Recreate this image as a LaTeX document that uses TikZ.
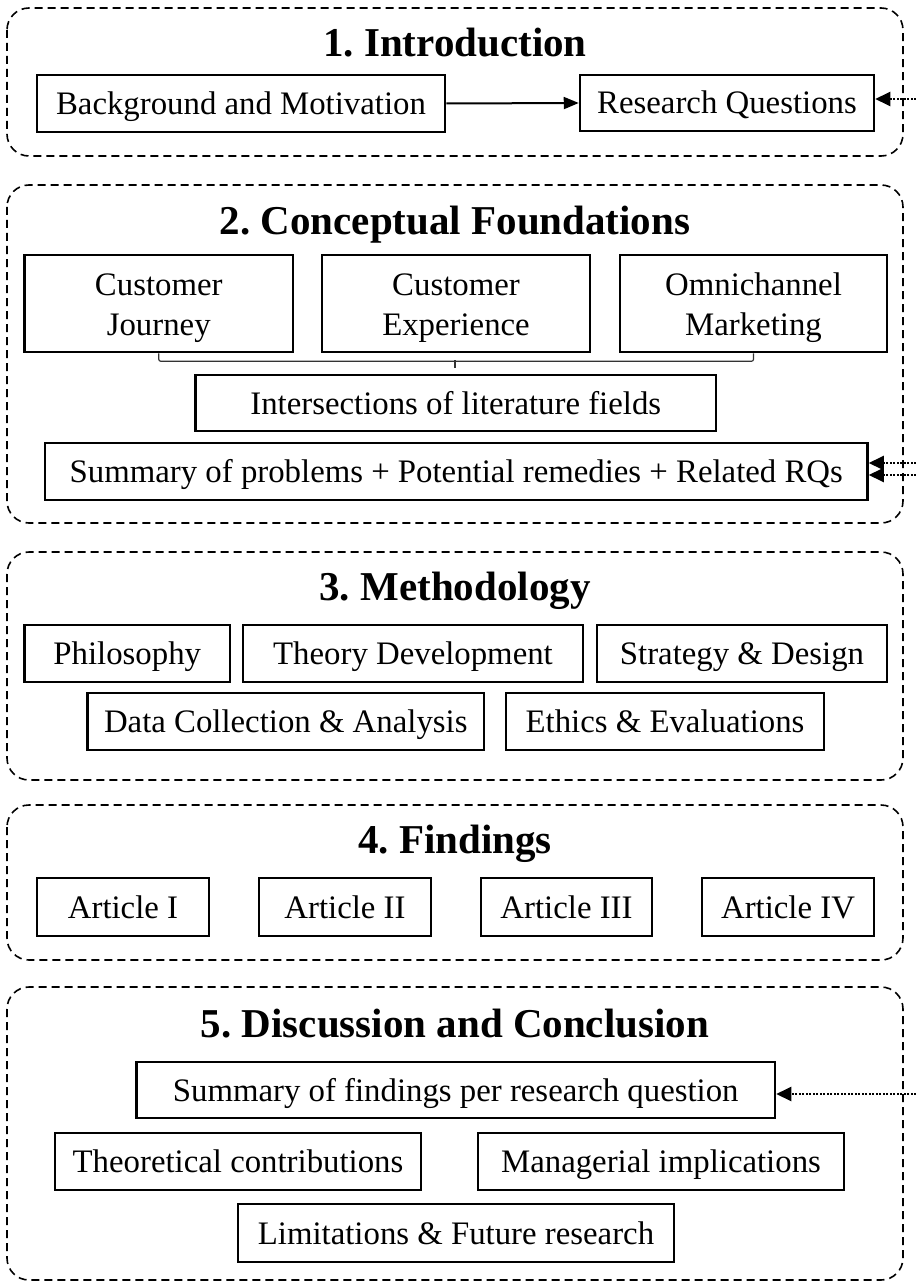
\documentclass[tikz,border=0pt]{standalone}
\usepackage{fontspec}
\setmainfont{Liberation Serif}
\usetikzlibrary{arrows.meta}
\frenchspacing
\newcommand{\boxfont}{\fontsize{32.8}{40}\selectfont}
\newcommand{\titlefont}{\fontsize{41}{48}\selectfont\bfseries}
% two-line label, set slightly below the box centre
\newcommand{\twolines}[2]{\raisebox{-4pt}[\height][\depth]{\begin{tabular}{@{}c@{}}#1\\#2\end{tabular}}}
\tikzset{
  panel/.style={draw, dashed, dash pattern=on 8pt off 5pt, line width=1.6pt, rounded corners=22pt},
  sectitle/.style={anchor=base, font=\titlefont, inner sep=0pt},
  box/.style={draw, line width=2.5pt, inner sep=0pt, font=\boxfont, text height=22pt, text depth=0pt},
  twobox/.style={draw, line width=2.5pt, inner sep=0pt, font=\boxfont},
  flow/.style={line width=2pt, -{Triangle[length=15pt,width=12pt]}},
  feed/.style={line width=2pt, dash pattern=on 2pt off 1.5pt, -{Triangle[length=15pt,width=14pt]}},
  bracket/.style={line width=1.2pt, draw=black!80}
}
\begin{document}
\begin{tikzpicture}[x=1pt,y=-1pt]
\useasboundingbox (0,0) rectangle (915,1281);

% section frames
\draw[panel] (7,8) rectangle (903,156);
\draw[panel] (7,185) rectangle (903,523);
\draw[panel] (7,552) rectangle (903,780);
\draw[panel] (7,805) rectangle (903,960);
\draw[panel] (7,987) rectangle (903,1280);

% 1. Introduction
\node[sectitle] (t1) at (455,57) {1. Introduction};
\node[box, minimum width=408pt, minimum height=57pt] (bg) at (241,103.5) {Background and Motivation};
\node[box, minimum width=294pt, minimum height=56pt] (rq) at (727,103) {Research Questions};
\draw[flow] (bg.east) -- (rq.west);

% 2. Conceptual Foundations
\node[sectitle] (t2) at (455,235) {2. Conceptual Foundations};
\node[twobox, minimum width=268.5pt, minimum height=97pt] (cj) at (158.75,303.5) {\twolines{Customer}{Journey}};
\node[twobox, minimum width=268pt, minimum height=97pt] (ce) at (456,303.5) {\twolines{Customer}{Experience}};
\node[twobox, minimum width=267pt, minimum height=97pt] (om) at (753.5,303.5) {\twolines{Omnichannel}{Marketing}};
\coordinate (brtip) at (455,368);
\draw[bracket, rounded corners=2pt] (cj.south) -- ++(0,8) -| (om.south);
\draw[bracket] (brtip |- 0,360) -- (brtip);
\node[box, minimum width=520.5pt, minimum height=56pt] (lit) at (455.75,403) {Intersections of literature fields};
\node[box, minimum width=822.5pt, minimum height=57pt] (sp) at (456.25,471.5) {Summary of problems + Potential remedies + Related RQs};

% 3. Methodology
\node[sectitle] (t3) at (455,600) {3. Methodology};
\node[box, minimum width=205.5pt, minimum height=57pt] (phil) at (127.25,653.5) {Philosophy};
\node[box, minimum width=340pt, minimum height=57pt] (theo) at (413,653.5) {Theory Development};
\node[box, minimum width=290pt, minimum height=57pt] (strat) at (742,653.5) {Strategy \& Design};
\node[box, minimum width=396.5pt, minimum height=57pt] (data) at (285.75,721.5) {Data Collection \& Analysis};
\node[box, minimum width=318pt, minimum height=57pt] (eth) at (665,721.5) {Ethics \& Evaluations};

% 4. Findings
\node[sectitle] (t4) at (455,853) {4. Findings};
\node[box, minimum width=172pt, minimum height=58pt] (a1) at (123,907) {Article I};
\node[box, minimum width=172pt, minimum height=58pt] (a2) at (345,907) {Article II};
\node[box, minimum width=171pt, minimum height=58pt] (a3) at (566.5,907) {Article III};
\node[box, minimum width=172pt, minimum height=58pt] (a4) at (788,907) {Article IV};

% 5. Discussion and Conclusion
\node[sectitle] (t5) at (455,1037) {5. Discussion and Conclusion};
\node[box, minimum width=638.5pt, minimum height=56pt] (sf) at (455.75,1090) {Summary of findings per research question};
\node[box, minimum width=366pt, minimum height=57pt] (tc) at (238,1161.5) {Theoretical contributions};
\node[box, minimum width=366pt, minimum height=57pt] (mi) at (661,1161.5) {Managerial implications};
\node[box, minimum width=436pt, minimum height=58pt] (lim) at (456,1233) {Limitations \& Future research};

% incoming references from the right margin
\coordinate (in1) at (916,99);
\coordinate (in2) at (916,463);
\coordinate (in3) at (916,475);
\coordinate (in4) at (916,1094);
\draw[feed] (in1) -- (in1 -| rq.east);
\draw[feed] (in2) -- (in2 -| sp.east);
\draw[feed] (in3) -- (in3 -| sp.east);
\draw[feed] (in4) -- (in4 -| sf.east);
\end{tikzpicture}
\end{document}
